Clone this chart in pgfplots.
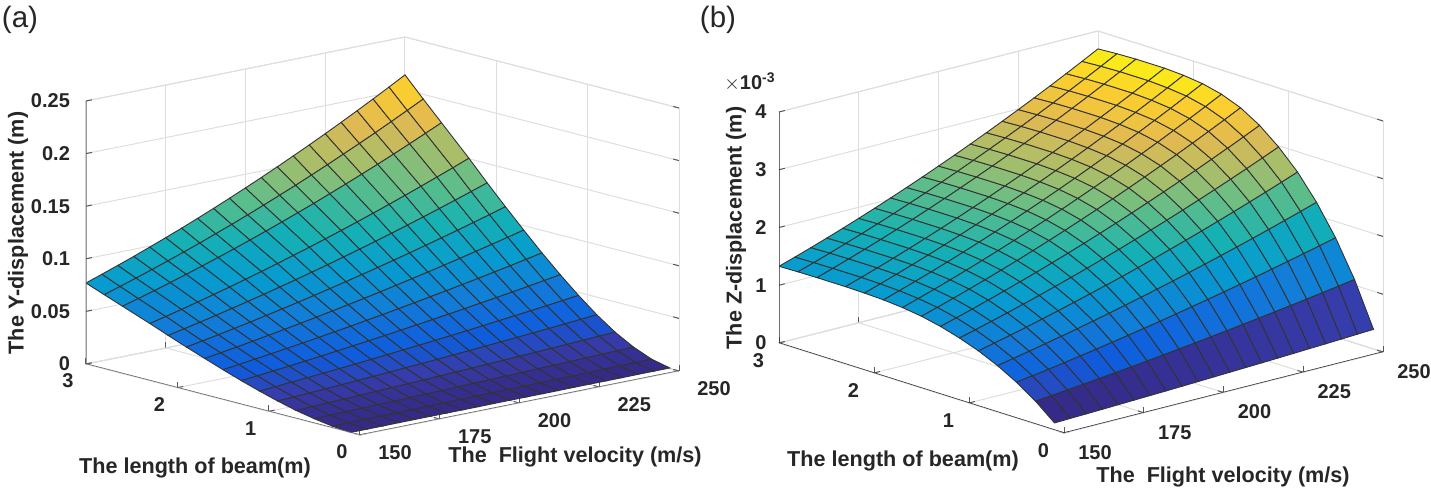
\documentclass[border=0pt]{standalone}
\usepackage{fontspec}
\setmainfont{Liberation Sans}
\usepackage{pgfplots}
\pgfplotsset{compat=1.18}

\newcommand\labfont{\fontsize{10.8}{12}\selectfont\bfseries}

\pgfplotsset{
  colormap={parula}{rgb255=(53,42,135) rgb255=(54,61,172) rgb255=(15,92,221) rgb255=(17,108,219) rgb255=(18,125,216) rgb255=(12,140,212) rgb255=(7,156,207) rgb255=(14,166,194) rgb255=(21,177,180) rgb255=(55,183,160) rgb255=(89,189,140) rgb255=(127,190,124) rgb255=(165,190,107) rgb255=(195,188,95) rgb255=(225,185,82) rgb255=(239,196,64) rgb255=(252,206,46) rgb255=(250,228,30) rgb255=(249,251,14)},
  beamaxis/.style={
    anchor=origin,
    xmin=150, xmax=250, ymin=0, ymax=3, zmin=0,
    xtick={150,175,200,225,250}, ytick={0,1,2,3},
    grid=major, grid style={draw=black!13, line width=.5pt},
    axis line style={draw=black!13, line width=.5pt},
    tick align=inside, major tick length=3pt,
    tick style={draw=black!65, line width=.5pt},
    xtick pos=left, ytick pos=left, ztick pos=left,
    /pgf/number format/assume math mode=true,
    /pgf/number format/fixed,
    scaled ticks=false,
    tick label style={font=\fontsize{10}{12}\selectfont\bfseries, text=black!85},
    colormap name=parula,
  },
  beamsurf/.style={surf, shader=flat corner, draw=black!80, line width=.45pt, z buffer=sort},
}

\begin{document}
\begin{tikzpicture}
\path[use as bounding box] (0,0) rectangle (715.5pt,245.5pt);

\begin{axis}[beamaxis, at={(180pt,28pt)},
  y={(-45.67pt,11.83pt)}, x={(1.595pt,0.32pt)}, z={(0pt,526pt)},
  zmax=.25, ztick={0,0.05,0.1,0.15,0.2,0.25},
  yticklabel style={anchor=center, xshift=-9pt, yshift=-8.5pt},
  xticklabel style={anchor=center, xshift=17.5pt, yshift=-9pt},
  zticklabel style={anchor=east, xshift=-4.5pt, yshift=0pt},
  ylabel={The length of beam(m)},
  xlabel={The\ \ Flight velocity (m/s)},
  zlabel={The Y-displacement (m)},
  every axis y label/.style={font=\labfont, text=black!85, at={(axis cs:150,0,0)}, anchor=center, xshift=-82.5pt, yshift=-16.5pt},
  every axis x label/.style={font=\labfont, text=black!85, at={(axis cs:150,0,0)}, anchor=center, xshift=107.5pt, yshift=-11pt},
  every axis z label/.style={font=\labfont, text=black!85, at={(axis cs:150,0,0)}, anchor=center, xshift=-171pt, yshift=101pt, rotate=90},
]
\addplot3[beamsurf] coordinates {
(150,.1,.0002) (155,.1,.0002) (160,.1,.0002) (165,.1,.0003) (170,.1,.0003) (175,.1,.0003) (180,.1,.0003) (185,.1,.0003) (190,.1,.0003) (195,.1,.0004) (200,.1,.0004) (205,.1,.0004) (210,.1,.0004) (215,.1,.0004) (220,.1,.0005) (225,.1,.0005) (230,.1,.0005) (235,.1,.0005) (240,.1,.0006) (245,.1,.0006) (250,.1,.0006)

(150,.3,.0016) (155,.3,.0017) (160,.3,.0018) (165,.3,.0020) (170,.3,.0021) (175,.3,.0022) (180,.3,.0023) (185,.3,.0025) (190,.3,.0026) (195,.3,.0027) (200,.3,.0029) (205,.3,.0030) (210,.3,.0032) (215,.3,.0033) (220,.3,.0035) (225,.3,.0036) (230,.3,.0038) (235,.3,.0040) (240,.3,.0041) (245,.3,.0043) (250,.3,.0045)

(150,.5,.0042) (155,.5,.0045) (160,.5,.0048) (165,.5,.0051) (170,.5,.0054) (175,.5,.0057) (180,.5,.0060) (185,.5,.0064) (190,.5,.0067) (195,.5,.0071) (200,.5,.0074) (205,.5,.0078) (210,.5,.0082) (215,.5,.0086) (220,.5,.0090) (225,.5,.0094) (230,.5,.0098) (235,.5,.0102) (240,.5,.0107) (245,.5,.0111) (250,.5,.0116)

(150,.7,.0076) (155,.7,.0081) (160,.7,.0087) (165,.7,.0092) (170,.7,.0098) (175,.7,.0104) (180,.7,.0110) (185,.7,.0116) (190,.7,.0122) (195,.7,.0129) (200,.7,.0136) (205,.7,.0143) (210,.7,.0150) (215,.7,.0157) (220,.7,.0164) (225,.7,.0172) (230,.7,.0179) (235,.7,.0187) (240,.7,.0195) (245,.7,.0204) (250,.7,.0212)

(150,.9,.0120) (155,.9,.0128) (160,.9,.0136) (165,.9,.0145) (170,.9,.0154) (175,.9,.0163) (180,.9,.0172) (185,.9,.0182) (190,.9,.0192) (195,.9,.0202) (200,.9,.0212) (205,.9,.0223) (210,.9,.0234) (215,.9,.0246) (220,.9,.0257) (225,.9,.0269) (230,.9,.0281) (235,.9,.0293) (240,.9,.0306) (245,.9,.0319) (250,.9,.0332)

(150,1.1,.0170) (155,1.1,.0181) (160,1.1,.0193) (165,1.1,.0205) (170,1.1,.0218) (175,1.1,.0231) (180,1.1,.0244) (185,1.1,.0258) (190,1.1,.0272) (195,1.1,.0287) (200,1.1,.0301) (205,1.1,.0317) (210,1.1,.0332) (215,1.1,.0348) (220,1.1,.0365) (225,1.1,.0382) (230,1.1,.0399) (235,1.1,.0416) (240,1.1,.0434) (245,1.1,.0452) (250,1.1,.0471)

(150,1.3,.0224) (155,1.3,.0239) (160,1.3,.0255) (165,1.3,.0271) (170,1.3,.0288) (175,1.3,.0305) (180,1.3,.0323) (185,1.3,.0341) (190,1.3,.0360) (195,1.3,.0379) (200,1.3,.0399) (205,1.3,.0419) (210,1.3,.0440) (215,1.3,.0461) (220,1.3,.0482) (225,1.3,.0505) (230,1.3,.0527) (235,1.3,.0550) (240,1.3,.0574) (245,1.3,.0598) (250,1.3,.0623)

(150,1.5,.0283) (155,1.5,.0302) (160,1.5,.0322) (165,1.5,.0342) (170,1.5,.0363) (175,1.5,.0385) (180,1.5,.0407) (185,1.5,.0430) (190,1.5,.0453) (195,1.5,.0478) (200,1.5,.0502) (205,1.5,.0528) (210,1.5,.0554) (215,1.5,.0581) (220,1.5,.0608) (225,1.5,.0636) (230,1.5,.0664) (235,1.5,.0694) (240,1.5,.0723) (245,1.5,.0754) (250,1.5,.0785)

(150,1.7,.0345) (155,1.7,.0368) (160,1.7,.0392) (165,1.7,.0417) (170,1.7,.0443) (175,1.7,.0469) (180,1.7,.0496) (185,1.7,.0524) (190,1.7,.0553) (195,1.7,.0582) (200,1.7,.0612) (205,1.7,.0643) (210,1.7,.0675) (215,1.7,.0708) (220,1.7,.0741) (225,1.7,.0775) (230,1.7,.0810) (235,1.7,.0846) (240,1.7,.0882) (245,1.7,.0919) (250,1.7,.0957)

(150,1.9,.0408) (155,1.9,.0436) (160,1.9,.0464) (165,1.9,.0494) (170,1.9,.0524) (175,1.9,.0556) (180,1.9,.0588) (185,1.9,.0621) (190,1.9,.0655) (195,1.9,.0690) (200,1.9,.0726) (205,1.9,.0763) (210,1.9,.0800) (215,1.9,.0839) (220,1.9,.0878) (225,1.9,.0919) (230,1.9,.0960) (235,1.9,.1002) (240,1.9,.1045) (245,1.9,.1089) (250,1.9,.1134)

(150,2.1,.0474) (155,2.1,.0506) (160,2.1,.0539) (165,2.1,.0573) (170,2.1,.0609) (175,2.1,.0645) (180,2.1,.0682) (185,2.1,.0721) (190,2.1,.0760) (195,2.1,.0801) (200,2.1,.0842) (205,2.1,.0885) (210,2.1,.0929) (215,2.1,.0973) (220,2.1,.1019) (225,2.1,.1066) (230,2.1,.1114) (235,2.1,.1163) (240,2.1,.1213) (245,2.1,.1264) (250,2.1,.1316)

(150,2.3,.0542) (155,2.3,.0579) (160,2.3,.0616) (165,2.3,.0656) (170,2.3,.0696) (175,2.3,.0737) (180,2.3,.0780) (185,2.3,.0824) (190,2.3,.0869) (195,2.3,.0916) (200,2.3,.0963) (205,2.3,.1012) (210,2.3,.1062) (215,2.3,.1113) (220,2.3,.1165) (225,2.3,.1219) (230,2.3,.1274) (235,2.3,.1330) (240,2.3,.1387) (245,2.3,.1445) (250,2.3,.1505)

(150,2.6,.0639) (155,2.6,.0682) (160,2.6,.0727) (165,2.6,.0773) (170,2.6,.0821) (175,2.6,.0870) (180,2.6,.0920) (185,2.6,.0972) (190,2.6,.1025) (195,2.6,.1080) (200,2.6,.1136) (205,2.6,.1194) (210,2.6,.1252) (215,2.6,.1313) (220,2.6,.1375) (225,2.6,.1438) (230,2.6,.1502) (235,2.6,.1568) (240,2.6,.1636) (245,2.6,.1705) (250,2.6,.1775)

(150,2.8,.0704) (155,2.8,.0752) (160,2.8,.0801) (165,2.8,.0852) (170,2.8,.0904) (175,2.8,.0958) (180,2.8,.1013) (185,2.8,.1071) (190,2.8,.1129) (195,2.8,.1189) (200,2.8,.1251) (205,2.8,.1315) (210,2.8,.1379) (215,2.8,.1446) (220,2.8,.1514) (225,2.8,.1584) (230,2.8,.1655) (235,2.8,.1727) (240,2.8,.1802) (245,2.8,.1878) (250,2.8,.1955)

(150,3,.0770) (155,3,.0823) (160,3,.0877) (165,3,.0932) (170,3,.0990) (175,3,.1049) (180,3,.1109) (185,3,.1172) (190,3,.1236) (195,3,.1302) (200,3,.1370) (205,3,.1439) (210,3,.1510) (215,3,.1583) (220,3,.1657) (225,3,.1733) (230,3,.1811) (235,3,.1891) (240,3,.1972) (245,3,.2055) (250,3,.2140)
};
\draw[black!60, line width=.6pt] (axis cs:150,3,.25) -- (axis cs:150,3,0) -- (axis cs:150,0,0) -- (axis cs:250,0,0);
\end{axis}

\begin{axis}[beamaxis, at={(532pt,29pt)},
  y={(-47.5pt,15pt)}, x={(1.595pt,0.405pt)}, z={(0pt,28.875pt)},
  zmax=4, ztick={0,1,2,3,4},
  yticklabel style={anchor=center, xshift=-10.25pt, yshift=-9pt},
  xticklabel style={anchor=center, xshift=15.5pt, yshift=-9.75pt},
  zticklabel style={anchor=east, xshift=-2.75pt, yshift=0pt},
  ylabel={The length of beam(m)},
  xlabel={The\ \ Flight velocity (m/s)},
  zlabel={The Z-displacement (m)},
  every axis y label/.style={font=\labfont, text=black!85, at={(axis cs:150,0,0)}, anchor=center, xshift=-80.5pt, yshift=-14pt},
  every axis x label/.style={font=\labfont, text=black!85, at={(axis cs:150,0,0)}, anchor=center, xshift=79.5pt, yshift=-22pt},
  every axis z label/.style={font=\labfont, text=black!85, at={(axis cs:150,0,0)}, anchor=center, xshift=-164pt, yshift=102.5pt, rotate=90},
]
\addplot3[beamsurf] coordinates {
(150,.1,.122) (155,.1,.131) (160,.1,.139) (165,.1,.148) (170,.1,.157) (175,.1,.167) (180,.1,.176) (185,.1,.186) (190,.1,.196) (195,.1,.207) (200,.1,.218) (205,.1,.229) (210,.1,.240) (215,.1,.251) (220,.1,.263) (225,.1,.275) (230,.1,.288) (235,.1,.300) (240,.1,.313) (245,.1,.327) (250,.1,.340)

(150,.3,.396) (155,.3,.423) (160,.3,.451) (165,.3,.479) (170,.3,.509) (175,.3,.539) (180,.3,.570) (185,.3,.602) (190,.3,.635) (195,.3,.669) (200,.3,.704) (205,.3,.740) (210,.3,.776) (215,.3,.814) (220,.3,.852) (225,.3,.891) (230,.3,.931) (235,.3,.972) (240,.3,1.014) (245,.3,1.056) (250,.3,1.100)

(150,.5,.619) (155,.5,.661) (160,.5,.705) (165,.5,.749) (170,.5,.795) (175,.5,.843) (180,.5,.892) (185,.5,.942) (190,.5,.993) (195,.5,1.046) (200,.5,1.101) (205,.5,1.157) (210,.5,1.214) (215,.5,1.272) (220,.5,1.332) (225,.5,1.393) (230,.5,1.456) (235,.5,1.520) (240,.5,1.585) (245,.5,1.652) (250,.5,1.720)

(150,.7,.803) (155,.7,.857) (160,.7,.913) (165,.7,.971) (170,.7,1.031) (175,.7,1.093) (180,.7,1.156) (185,.7,1.221) (190,.7,1.288) (195,.7,1.357) (200,.7,1.427) (205,.7,1.499) (210,.7,1.574) (215,.7,1.649) (220,.7,1.727) (225,.7,1.806) (230,.7,1.887) (235,.7,1.970) (240,.7,2.055) (245,.7,2.142) (250,.7,2.230)

(150,.9,.954) (155,.9,1.019) (160,.9,1.085) (165,.9,1.154) (170,.9,1.225) (175,.9,1.299) (180,.9,1.374) (185,.9,1.451) (190,.9,1.531) (195,.9,1.612) (200,.9,1.696) (205,.9,1.782) (210,.9,1.870) (215,.9,1.960) (220,.9,2.052) (225,.9,2.147) (230,.9,2.243) (235,.9,2.342) (240,.9,2.442) (245,.9,2.545) (250,.9,2.650)

(150,1.1,1.073) (155,1.1,1.146) (160,1.1,1.221) (165,1.1,1.298) (170,1.1,1.378) (175,1.1,1.460) (180,1.1,1.545) (185,1.1,1.632) (190,1.1,1.721) (195,1.1,1.813) (200,1.1,1.907) (205,1.1,2.004) (210,1.1,2.103) (215,1.1,2.204) (220,1.1,2.308) (225,1.1,2.414) (230,1.1,2.522) (235,1.1,2.633) (240,1.1,2.746) (245,1.1,2.862) (250,1.1,2.980)

(150,1.3,1.170) (155,1.3,1.249) (160,1.3,1.331) (165,1.3,1.416) (170,1.3,1.503) (175,1.3,1.593) (180,1.3,1.685) (185,1.3,1.780) (190,1.3,1.877) (195,1.3,1.977) (200,1.3,2.080) (205,1.3,2.185) (210,1.3,2.293) (215,1.3,2.404) (220,1.3,2.517) (225,1.3,2.633) (230,1.3,2.751) (235,1.3,2.872) (240,1.3,2.995) (245,1.3,3.121) (250,1.3,3.250)

(150,1.5,1.242) (155,1.5,1.326) (160,1.5,1.413) (165,1.5,1.503) (170,1.5,1.595) (175,1.5,1.691) (180,1.5,1.788) (185,1.5,1.889) (190,1.5,1.993) (195,1.5,2.099) (200,1.5,2.208) (205,1.5,2.320) (210,1.5,2.434) (215,1.5,2.552) (220,1.5,2.672) (225,1.5,2.795) (230,1.5,2.920) (235,1.5,3.048) (240,1.5,3.180) (245,1.5,3.313) (250,1.5,3.450)

(150,1.7,1.289) (155,1.7,1.376) (160,1.7,1.466) (165,1.7,1.559) (170,1.7,1.655) (175,1.7,1.754) (180,1.7,1.856) (185,1.7,1.960) (190,1.7,2.068) (195,1.7,2.178) (200,1.7,2.291) (205,1.7,2.407) (210,1.7,2.526) (215,1.7,2.648) (220,1.7,2.772) (225,1.7,2.900) (230,1.7,3.030) (235,1.7,3.163) (240,1.7,3.299) (245,1.7,3.438) (250,1.7,3.580)

(150,1.9,1.318) (155,1.9,1.407) (160,1.9,1.499) (165,1.9,1.594) (170,1.9,1.692) (175,1.9,1.793) (180,1.9,1.897) (185,1.9,2.004) (190,1.9,2.114) (195,1.9,2.227) (200,1.9,2.342) (205,1.9,2.461) (210,1.9,2.582) (215,1.9,2.707) (220,1.9,2.834) (225,1.9,2.965) (230,1.9,3.098) (235,1.9,3.234) (240,1.9,3.373) (245,1.9,3.515) (250,1.9,3.660)

(150,2.1,1.332) (155,2.1,1.422) (160,2.1,1.516) (165,2.1,1.612) (170,2.1,1.711) (175,2.1,1.813) (180,2.1,1.918) (185,2.1,2.026) (190,2.1,2.137) (195,2.1,2.251) (200,2.1,2.368) (205,2.1,2.488) (210,2.1,2.611) (215,2.1,2.737) (220,2.1,2.865) (225,2.1,2.997) (230,2.1,3.132) (235,2.1,3.269) (240,2.1,3.410) (245,2.1,3.553) (250,2.1,3.700)

(150,2.3,1.339) (155,2.3,1.430) (160,2.3,1.524) (165,2.3,1.620) (170,2.3,1.720) (175,2.3,1.823) (180,2.3,1.928) (185,2.3,2.037) (190,2.3,2.149) (195,2.3,2.263) (200,2.3,2.381) (205,2.3,2.501) (210,2.3,2.625) (215,2.3,2.751) (220,2.3,2.881) (225,2.3,3.013) (230,2.3,3.149) (235,2.3,3.287) (240,2.3,3.428) (245,2.3,3.573) (250,2.3,3.720)

(150,2.6,1.339) (155,2.6,1.430) (160,2.6,1.524) (165,2.6,1.620) (170,2.6,1.720) (175,2.6,1.823) (180,2.6,1.928) (185,2.6,2.037) (190,2.6,2.149) (195,2.6,2.263) (200,2.6,2.381) (205,2.6,2.501) (210,2.6,2.625) (215,2.6,2.751) (220,2.6,2.881) (225,2.6,3.013) (230,2.6,3.149) (235,2.6,3.287) (240,2.6,3.428) (245,2.6,3.573) (250,2.6,3.720)

(150,2.8,1.336) (155,2.8,1.426) (160,2.8,1.520) (165,2.8,1.616) (170,2.8,1.716) (175,2.8,1.818) (180,2.8,1.923) (185,2.8,2.032) (190,2.8,2.143) (195,2.8,2.257) (200,2.8,2.374) (205,2.8,2.495) (210,2.8,2.618) (215,2.8,2.744) (220,2.8,2.873) (225,2.8,3.005) (230,2.8,3.140) (235,2.8,3.278) (240,2.8,3.419) (245,2.8,3.563) (250,2.8,3.710)

(150,3,1.328) (155,3,1.418) (160,3,1.511) (165,3,1.607) (170,3,1.706) (175,3,1.808) (180,3,1.913) (185,3,2.021) (190,3,2.131) (195,3,2.245) (200,3,2.362) (205,3,2.481) (210,3,2.604) (215,3,2.729) (220,3,2.858) (225,3,2.989) (230,3,3.123) (235,3,3.260) (240,3,3.401) (245,3,3.544) (250,3,3.690)
};
\draw[black!80, line width=.6pt] (axis cs:150,3,4) -- (axis cs:150,3,0) -- (axis cs:150,0,0) -- (axis cs:250,0,0);
\end{axis}

\node[font=\fontsize{14.75}{16}\selectfont, text=black!85] at (10pt,235.5pt) {(a)};
\node[font=\fontsize{14.75}{16}\selectfont, text=black!85] at (359pt,235.5pt) {(b)};
\node[font=\fontsize{10}{12}\selectfont\bfseries, text=black!85] at (375pt,204.5pt) {$\times$10\textsuperscript{-3}};
\end{tikzpicture}
\end{document}
